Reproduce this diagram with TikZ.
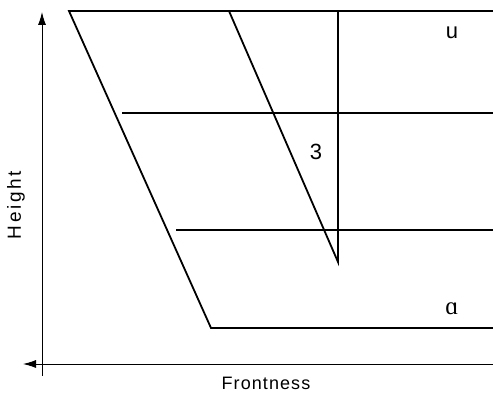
\documentclass[tikz,border=0pt]{standalone}
\usepackage{fontspec}
\usetikzlibrary{arrows.meta}
\setmainfont{Liberation Sans}
\newfontfamily\ipafont{Liberation Serif}
\newfontfamily\axisfont[LetterSpace=6]{Liberation Sans}
\newfontfamily\axisfontwide[LetterSpace=14]{Liberation Sans}
\tikzset{
  chartline/.style={line width=1.8pt},
  axisline/.style={line width=0.9pt},
  axistip/.style={-{Latex[length=13pt,width=8pt]}},
  vowel/.style={font=\fontsize{22}{24}\selectfont,inner sep=0pt}
}
\begin{document}
\begin{tikzpicture}[x=1pt,y=-1pt,line cap=butt,line join=miter]
  \useasboundingbox (0,0) rectangle (493,395);
  % corners of the chart
  \coordinate (hf) at (69,11);
  \coordinate (hb) at (493,11);
  \coordinate (lf) at (211,328);
  \coordinate (lb) at (493,328);
  \coordinate (ct) at (229,11);
  \coordinate (cb) at (338,262);
  \coordinate (ctop) at (338,11);
  \coordinate (mh1) at (122,113);
  \coordinate (mh2) at (493,113);
  \coordinate (ml1) at (176,230);
  \coordinate (ml2) at (493,230);
  % axes
  \coordinate (ybot) at (42,376);
  \coordinate (ytop) at (42,12);
  \coordinate (xr) at (493,364);
  \coordinate (xl) at (23,364);
  \draw[axisline,axistip] (ybot) -- (ytop);
  \draw[axisline,axistip] (xr) -- (xl);
  % chart
  \draw[chartline] (hb) -- (hf) -- (lf) -- (lb);
  \draw[chartline] (ct) -- (cb) -- (ctop);
  \draw[chartline] (mh1) -- (mh2);
  \draw[chartline] (ml1) -- (ml2);
  % labels
  \node[vowel] (u) at (452,33) {u};
  \node[vowel] (schwa) at (316,152) {3};
  \node[vowel,font=\ipafont\fontsize{25}{27}\selectfont] (a) at (452,309) {ɑ};
  \node[font=\axisfontwide\fontsize{19}{21}\selectfont,rotate=90] (height) at (16,205) {Height};
  \node[font=\axisfont\fontsize{18}{20}\selectfont] (front) at (266,383) {Frontness};
\end{tikzpicture}
\end{document}
